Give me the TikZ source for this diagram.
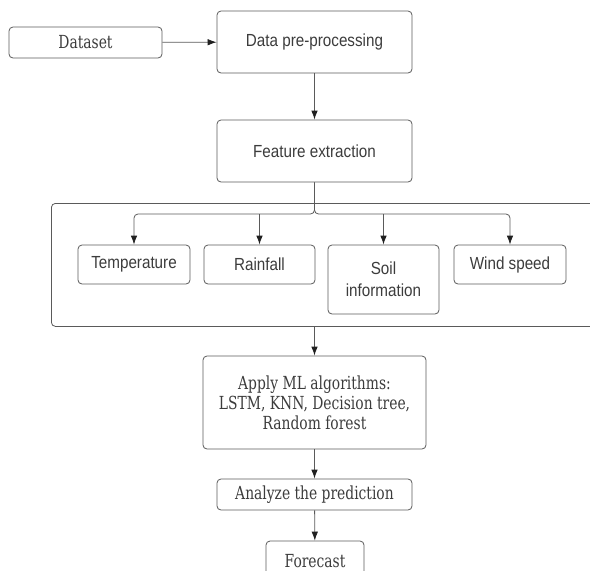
\documentclass[tikz,border=0pt]{standalone}
\usepackage{fontspec}
\setmainfont{DejaVu Serif}[FakeStretch=0.77]
\setsansfont{Liberation Sans}[FakeStretch=0.87]
\usetikzlibrary{arrows.meta}
\definecolor{linegray}{HTML}{5A5A5A}
\definecolor{textgray}{HTML}{3C3C3C}
\definecolor{tipgray}{HTML}{202020}
\begin{document}
\begin{tikzpicture}[x=1pt,y=-1pt,
  box/.style={draw=linegray,rounded corners=4pt,line width=0.8pt,inner sep=0pt,align=center,text=textgray},
  sansbox/.style={box,font=\sffamily\fontsize{17.5}{22}\selectfont},
  serifbox/.style={box,font=\fontsize{18}{20}\selectfont},
  flow/.style={draw=linegray,line width=0.8pt,-{Latex[length=9pt,width=6.5pt,color=tipgray]}},
  branch/.style={flow,rounded corners=4pt}]
\useasboundingbox(0,0) rectangle (590,571);
% top of the flow
\node[serifbox,minimum width=153pt,minimum height=31pt](data) at (85.5,42.5){Dataset};
\node[sansbox,minimum width=195pt,minimum height=62pt](prep) at (314.5,42){Data pre-processing};
\node[sansbox,minimum width=195pt,minimum height=62pt](feat) at (314.5,151){Feature extraction};
\draw[flow](data)--(prep);
\draw[flow](prep)--(feat);
% feature group
\node[box,minimum width=549pt,minimum height=123pt,anchor=north west](group) at (51,203){};
\node[sansbox,minimum width=112pt,minimum height=39pt](temp) at (134,264.5){Temperature};
\node[sansbox,minimum width=111pt,minimum height=39pt](rain) at (259.5,264.5){Rainfall};
\node[sansbox,minimum width=111pt,minimum height=69pt](soil) at (383.5,279.5){Soil\\information};
\node[sansbox,minimum width=112pt,minimum height=39pt](wind) at (510,264.5){Wind speed};
\coordinate(split) at (314.5,214);
\foreach \n in {temp,wind}{\draw[branch](feat.south)--(feat.south|-split)-|(\n.north);}
\foreach \n in {rain,soil}{\draw[flow](\n.north|-split)--(\n.north);}
% models and output
\node[serifbox,minimum width=223pt,minimum height=93pt](ml) at (314.5,402.5){Apply ML algorithms:\\LSTM, KNN, Decision tree,\\Random forest};
\node[serifbox,minimum width=195pt,minimum height=31pt](ana) at (314.5,494.5){Analyze the prediction};
\node[serifbox,minimum width=98pt,minimum height=40pt](fore) at (315,561){Forecast};
\draw[flow](ml.north|-group.south)--(ml.north);
\draw[flow](ml)--(ana);
\draw[flow](ana)--(fore);
\end{tikzpicture}
\end{document}
